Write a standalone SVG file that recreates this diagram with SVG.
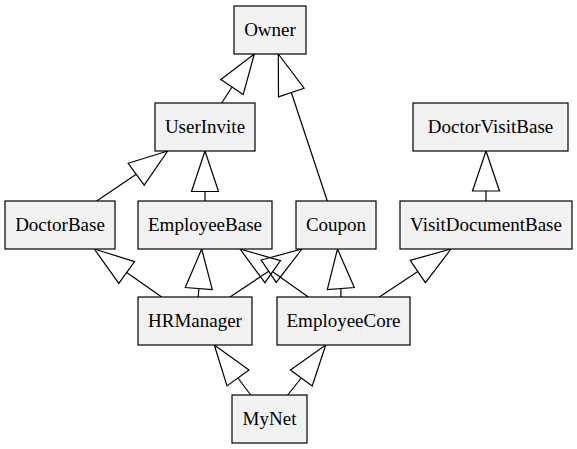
<svg xmlns="http://www.w3.org/2000/svg" width="577" height="449" viewBox="0 0 577 449">
<style>
.n rect{fill:#f2f2f2;stroke:#000;stroke-width:1.2}
.n text{font-family:"Liberation Serif","Times New Roman",serif;font-size:19px;fill:#000;text-anchor:middle}
.e line{stroke:#000;stroke-width:1.2}
.e polygon{fill:none;stroke:#000;stroke-width:1.2;stroke-linejoin:miter}
</style>
<rect width="577" height="449" fill="#fff"/>
<g class="e" id="edges">
<line x1="221.7" y1="103" x2="232" y2="87"/><polygon points="254.3,54 243.2,94.6 220.8,79.4"/>
<line x1="327.3" y1="201" x2="291.3" y2="92.5"/><polygon points="278.3,54 304.1,88.2 278.5,96.8"/>
<line x1="96.7" y1="201" x2="136.2" y2="174.2"/><polygon points="167.7,151 144.2,185.1 128.2,163.3"/>
<line x1="205" y1="201" x2="205" y2="191.5"/><polygon points="205,151 191.5,191.5 218.5,191.5"/>
<line x1="486" y1="201" x2="486" y2="191"/><polygon points="486,151 472.5,191 499.5,191"/>
<line x1="161.7" y1="297" x2="126.7" y2="272.5"/><polygon points="94.3,249 118.8,283.4 134.6,261.6"/>
<line x1="198.3" y1="297" x2="198.8" y2="288.5"/><polygon points="201.7,249 185.3,287.5 212.3,289.5"/>
<line x1="230" y1="297" x2="268.7" y2="271.2"/><polygon points="302,249 276.2,282.4 261.2,260"/>
<line x1="308.3" y1="297" x2="272.7" y2="271.7"/><polygon points="240,249 264.9,282.7 280.5,260.7"/>
<line x1="341" y1="297" x2="340.8" y2="288.5"/><polygon points="337.5,249 327.3,289.5 354.3,287.5"/>
<line x1="379.3" y1="297" x2="417.8" y2="271.5"/><polygon points="451,249 425.4,282.7 410.2,260.3"/>
<line x1="250.7" y1="395" x2="238" y2="378"/><polygon points="214.3,345 227,385.9 249,370.1"/>
<line x1="287.7" y1="395" x2="301.3" y2="378"/><polygon points="325.7,345 312.2,386 290.4,370"/>
</g>
<g class="n" id="Owner"><rect x="234" y="6" width="72" height="48"/><text x="270" y="36">Owner</text></g>
<g class="n" id="UserInvite"><rect x="155" y="103" width="100" height="48"/><text x="205" y="133">UserInvite</text></g>
<g class="n" id="DoctorVisitBase"><rect x="413" y="103" width="155" height="48"/><text x="490.5" y="133">DoctorVisitBase</text></g>
<g class="n" id="DoctorBase"><rect x="5" y="201" width="110" height="48"/><text x="60" y="231">DoctorBase</text></g>
<g class="n" id="EmployeeBase"><rect x="138" y="201" width="134" height="48"/><text x="205" y="231">EmployeeBase</text></g>
<g class="n" id="Coupon"><rect x="296" y="201" width="80" height="48"/><text x="336" y="231">Coupon</text></g>
<g class="n" id="VisitDocumentBase"><rect x="400" y="201" width="172" height="48"/><text x="486" y="231">VisitDocumentBase</text></g>
<g class="n" id="HRManager"><rect x="138" y="297" width="114" height="48"/><text x="195" y="327">HRManager</text></g>
<g class="n" id="EmployeeCore"><rect x="277" y="297" width="133" height="48"/><text x="343.5" y="327">EmployeeCore</text></g>
<g class="n" id="MyNet"><rect x="232" y="395" width="75" height="48"/><text x="269.5" y="425">MyNet</text></g>
</svg>
